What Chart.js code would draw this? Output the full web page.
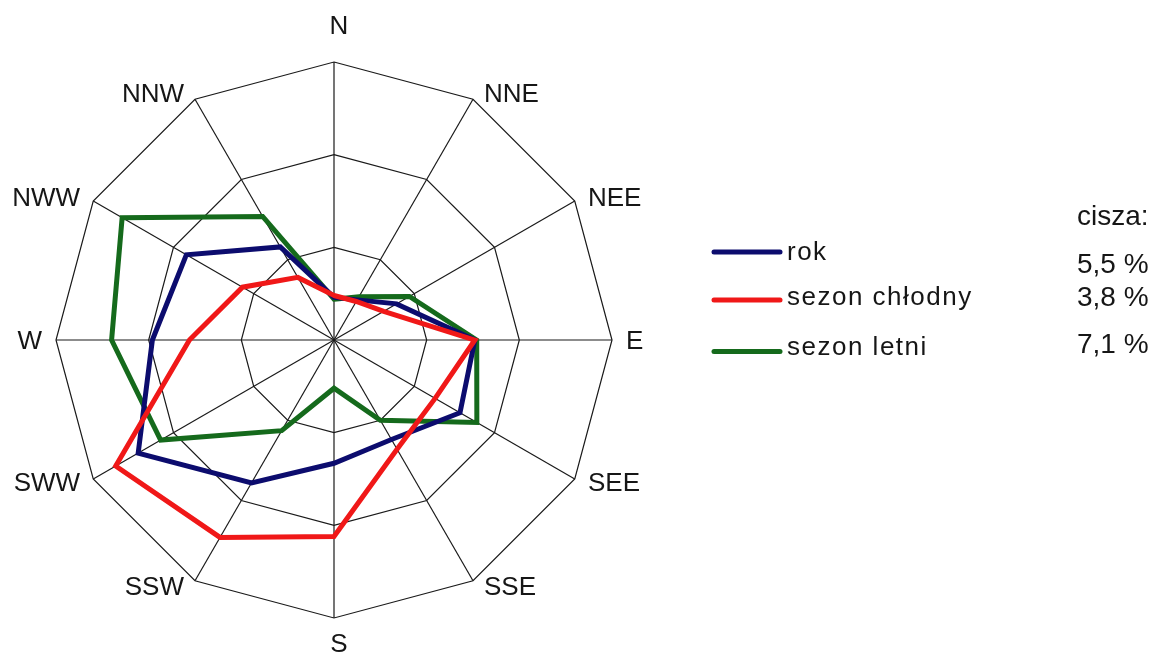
<!DOCTYPE html>
<html>
<head>
<meta charset="utf-8">
<script src="https://cdn.jsdelivr.net/npm/chart.js@4.4.1/dist/chart.umd.min.js"></script>
<style>
  html, body { margin: 0; padding: 0; background: #ffffff; }
  #wrap { position: relative; width: 1158px; height: 656px; }
</style>
</head>
<body>
<div id="wrap"><canvas id="c"></canvas></div>
<script>
// ---- data ----
const directions = ['N', 'NNE', 'NEE', 'E', 'SEE', 'SSE', 'S', 'SSW', 'SWW', 'W', 'NWW', 'NNW'];
const seriesNames = ['rok', 'sezon chłodny', 'sezon letni'];
const rok          = [2.3, 2.5, 3.9, 7.6, 7.85, 6.2, 6.65, 8.9, 12.2, 9.8, 9.2, 5.8];
const sezonChlodny = [2.4, 2.4, 3.1, 7.6, 6.3, 6.8, 10.6, 12.3, 13.6, 7.8, 5.7, 3.9];
const sezonLetni   = [2.2, 2.7, 4.7, 7.7, 8.9, 5.0, 2.6, 5.65, 10.8, 12.0, 13.2, 7.7];
const calmTitle = 'cisza:';
const calmValues = ['5,5 %', '3,8 %', '7,1 %'];
const scaleMin = 0, scaleMax = 15, scaleStep = 5;

// ---- styles ----
const colors = ['#0c0c6e', '#f01818', '#156a1c'];
const textColor = '#161616';
const fontFamily = '"Liberation Sans", Arial, Helvetica, sans-serif';

const roseLabels = {
  id: 'roseLabels',
  afterDraw(chart) {
    const s = chart.scales.r;
    const ctx = chart.ctx;
    ctx.save();
    ctx.fillStyle = textColor;
    ctx.textBaseline = 'middle';
    ctx.font = '26px ' + fontFamily;
    chart.data.labels.forEach((lab, i) => {
      const a = i * 2 * Math.PI / chart.data.labels.length;
      const sn = Math.sin(a), cs = Math.cos(a);
      const p = s.getPointPosition(i, s.drawingArea);
      let x, y;
      if (Math.abs(sn) < 0.01) {
        ctx.textAlign = 'center';
        x = p.x + 5;
        y = cs > 0 ? p.y - 35 : p.y + 27;
      } else {
        ctx.textAlign = sn > 0 ? 'left' : 'right';
        x = p.x + Math.sign(sn) * (8 + 6 * Math.abs(sn));
        y = p.y + 1.5 - 7 * cs;
      }
      ctx.fillText(lab, x, y);
    });

    // legend
    const lineY = [252, 300, 351.5];
    const textY = [252.5, 297.5, 347.5];
    chart.data.datasets.forEach((ds, i) => {
      ctx.beginPath();
      ctx.strokeStyle = ds.borderColor;
      ctx.lineWidth = 5;
      ctx.lineCap = 'round';
      ctx.moveTo(714, lineY[i]);
      ctx.lineTo(780, lineY[i]);
      ctx.stroke();
      ctx.font = '26px ' + fontFamily;
      if ('letterSpacing' in ctx) ctx.letterSpacing = '1.5px';
      ctx.textAlign = 'left';
      ctx.fillText(ds.label, 787, textY[i]);
      if ('letterSpacing' in ctx) ctx.letterSpacing = '0px';
    });

    // calm column
    ctx.font = '28px ' + fontFamily;
    ctx.textAlign = 'left';
    ctx.fillText(calmTitle, 1077, 217);
    const calmY = [265, 298.5, 345.5];
    calmValues.forEach((v, i) => ctx.fillText(v, 1077, calmY[i]));
    ctx.restore();
  }
};

const seriesData = [rok, sezonChlodny, sezonLetni];
const drawOrder = [1, 0, 2];

new Chart(document.getElementById('c'), {
  type: 'radar',
  data: {
    labels: directions,
    datasets: seriesNames.map((name, i) => ({
      label: name,
      data: seriesData[i],
      borderColor: colors[i],
      backgroundColor: 'rgba(0,0,0,0)',
      borderWidth: 5,
      fill: false,
      pointRadius: 0,
      pointHoverRadius: 0,
      tension: 0,
      order: drawOrder[i]
    }))
  },
  options: {
    responsive: true,
    maintainAspectRatio: false,
    animation: false,
    layout: { padding: { left: 56, top: 62, right: 546, bottom: 38 } },
    plugins: { legend: { display: false }, tooltip: { enabled: false } },
    scales: {
      r: {
        min: scaleMin,
        max: scaleMax,
        ticks: { display: false, stepSize: scaleStep },
        grid: { color: '#1a1a1a', lineWidth: 1.2, circular: false },
        angleLines: { color: '#1a1a1a', lineWidth: 1.2 },
        pointLabels: { display: false }
      }
    }
  },
  plugins: [roseLabels]
});
</script>
</body>
</html>
